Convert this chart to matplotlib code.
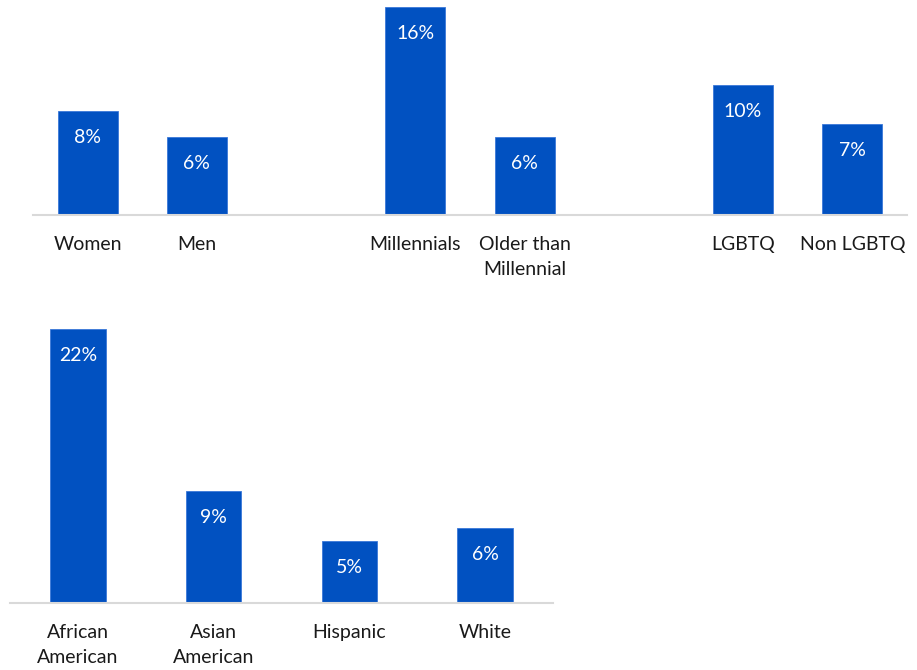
import matplotlib.pyplot as plt

plt.rcParams['font.family'] = ['Lato', 'DejaVu Sans']

# top row: three pairs of groups
top_labels = ['Women', 'Men', 'Millennials', 'Older than\nMillennial', 'LGBTQ', 'Non LGBTQ']
top_values = [8, 6, 16, 6, 10, 7]
top_pos = [0, 1, 3, 4, 6, 7]

# bottom row: race / ethnicity
race_labels = ['African\nAmerican', 'Asian\nAmerican', 'Hispanic', 'White']
race_values = [22, 9, 5, 6]

BLUE = '#0151c1'
GRID = '#d9d9d9'

fig = plt.figure(figsize=(9.17, 6.7), dpi=100)
ax1 = fig.add_axes([0.036, 0.679, 0.953, 0.320])
ax2 = fig.add_axes([0.011, 0.100, 0.592, 0.418])


def draw(ax, pos, values, labels, width, ymax, xlim):
    bars = ax.bar(pos, values, width=width, color=BLUE, edgecolor='#3a78d8', linewidth=0.6)
    for b, v in zip(bars, values):
        ax.annotate(f'{v}%', (b.get_x() + b.get_width() / 2, v), xytext=(0, -19),
                    textcoords='offset points', ha='center', va='center',
                    color='white', fontsize=14)
    ax.set_ylim(0, ymax)
    ax.set_xlim(*xlim)
    ax.set_xticks(pos)
    ax.set_xticklabels(labels, fontsize=14, color='#1a1a1a', linespacing=1.6)
    ax.tick_params(axis='x', length=0, pad=15)
    ax.set_yticks([])
    for s in ['top', 'right', 'left']:
        ax.spines[s].set_visible(False)
    ax.spines['bottom'].set_color(GRID)
    ax.spines['bottom'].set_linewidth(1.5)


draw(ax1, top_pos, top_values, top_labels, 0.55, 16.5, (-0.5, 7.5))
draw(ax2, range(len(race_values)), race_values, race_labels, 0.41, 22.5, (-0.5, 3.5))

fig.savefig('out.png', dpi=100)
